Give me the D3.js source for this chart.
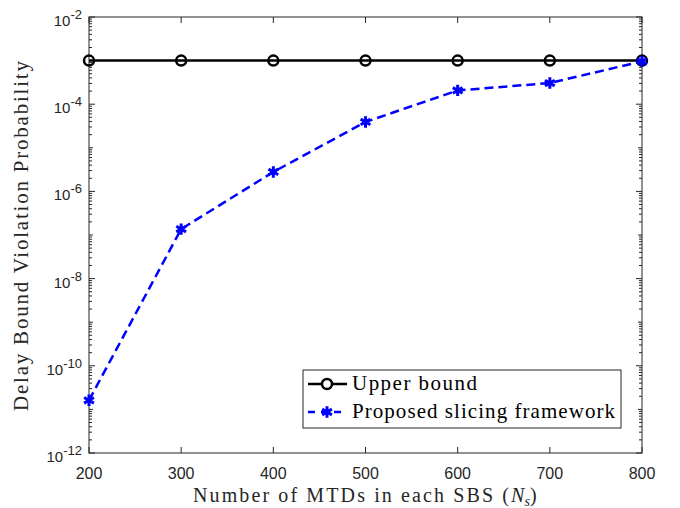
<!DOCTYPE html>
<html>
<head>
<meta charset="utf-8">
<script src="https://cdn.jsdelivr.net/npm/d3@7"></script>
<style>
body { margin: 0; background: #fff; }
</style>
</head>
<body>
<div id="view"></div>
<script>
var width = 680, height = 508;

// データ
var nsValues = [200, 300, 400, 500, 600, 700, 800];
var upperBound = [1e-3, 1e-3, 1e-3, 1e-3, 1e-3, 1e-3, 1e-3];
var proposed = [1.62e-11, 1.37e-7, 2.79e-6, 3.91e-5, 2.07e-4, 3.06e-4, 9.6e-4];
var xTicks = [200, 300, 400, 500, 600, 700, 800];
var yExponents = [-12, -10, -8, -6, -4, -2];
var seriesNames = ["Upper bound", "Proposed slicing framework"];

var pLeft = 89, pRight = 642, pTop = 17, pBottom = 453;

var svg = d3.select("#view").append("svg")
	.attr("width", width)
	.attr("height", height);

var x = d3.scaleLinear().domain([200, 800]).range([pLeft, pRight]);
var y = d3.scaleLog().domain([1e-12, 1e-2]).range([pBottom, pTop]);

var axisColor = "#262626";
var tickFont = "'Liberation Sans', Arial, sans-serif";
var serif = "'Liberation Serif', 'Times New Roman', serif";

// 目盛り（内向き）
var g = svg.append("g");
xTicks.forEach(function(t) {
	g.append("line").attr("x1", x(t)).attr("x2", x(t)).attr("y1", pBottom).attr("y2", pBottom - 6)
		.attr("stroke", axisColor);
	g.append("line").attr("x1", x(t)).attr("x2", x(t)).attr("y1", pTop).attr("y2", pTop + 6)
		.attr("stroke", axisColor);
	g.append("text").attr("x", x(t)).attr("y", 479)
		.attr("text-anchor", "middle")
		.style("font-family", tickFont).style("font-size", "16px")
		.attr("fill", axisColor)
		.text(t);
});

// y 目盛り（主目盛りと対数の副目盛り）
for (var e = -12; e <= -2; e++) {
	var yy = y(Math.pow(10, e));
	var len = (e % 2 === 0) ? 6 : 4;
	g.append("line").attr("x1", pLeft).attr("x2", pLeft + len).attr("y1", yy).attr("y2", yy).attr("stroke", axisColor);
	g.append("line").attr("x1", pRight).attr("x2", pRight - len).attr("y1", yy).attr("y2", yy).attr("stroke", axisColor);
	if (e < -2) {
		for (var m = 2; m <= 9; m++) {
			var ym = y(m * Math.pow(10, e));
			g.append("line").attr("x1", pLeft).attr("x2", pLeft + 3).attr("y1", ym).attr("y2", ym).attr("stroke", axisColor);
			g.append("line").attr("x1", pRight).attr("x2", pRight - 3).attr("y1", ym).attr("y2", ym).attr("stroke", axisColor);
		}
	}
}

yExponents.forEach(function(e) {
	var t = g.append("text")
		.attr("x", 82).attr("y", y(Math.pow(10, e)) + 9)
		.attr("text-anchor", "end")
		.style("font-family", tickFont).style("font-size", "15px")
		.attr("fill", axisColor);
	t.append("tspan").text("10");
	t.append("tspan").attr("dy", -7).style("font-size", "13px").text(e);
});

// 枠
svg.append("rect")
	.attr("x", pLeft).attr("y", pTop)
	.attr("width", pRight - pLeft).attr("height", pBottom - pTop)
	.attr("fill", "none").attr("stroke", axisColor).attr("stroke-width", 1);

var line = d3.line()
	.x(function(d, i) { return x(nsValues[i]); })
	.y(function(d) { return y(d); });

// 上限（黒の実線と丸）
svg.append("path").datum(upperBound)
	.attr("d", line)
	.attr("fill", "none").attr("stroke", "#000").attr("stroke-width", 2.5);

svg.selectAll(".ub")
	.data(upperBound).enter()
	.append("circle")
	.attr("class", "ub")
	.attr("cx", function(d, i) { return x(nsValues[i]); })
	.attr("cy", function(d) { return y(d); })
	.attr("r", 5)
	.attr("fill", "none").attr("stroke", "#000").attr("stroke-width", 2.5);

// 提案手法（青の破線とアスタリスク）
svg.append("path").datum(proposed)
	.attr("d", line)
	.attr("fill", "none").attr("stroke", "#0000ff").attr("stroke-width", 2.5)
	.attr("stroke-dasharray", "9,5");

var star = d3.symbol().type(d3.symbolAsterisk).size(90);
svg.selectAll(".pr")
	.data(proposed).enter()
	.append("path")
	.attr("class", "pr")
	.attr("transform", function(d, i) { return "translate(" + x(nsValues[i]) + "," + y(d) + ")"; })
	.attr("d", star)
	.attr("fill", "none").attr("stroke", "#0000ff").attr("stroke-width", 3);

// 凡例
var lg = svg.append("g");
lg.append("rect")
	.attr("x", 303).attr("y", 370).attr("width", 318).attr("height", 58)
	.attr("fill", "#fff").attr("stroke", axisColor).attr("stroke-width", 1);
lg.append("line").attr("x1", 308).attr("x2", 347).attr("y1", 384).attr("y2", 384)
	.attr("stroke", "#000").attr("stroke-width", 2.5);
lg.append("circle").attr("cx", 327).attr("cy", 384).attr("r", 5)
	.attr("fill", "#fff").attr("stroke", "#000").attr("stroke-width", 2.5);
lg.append("line").attr("x1", 308).attr("x2", 347).attr("y1", 412).attr("y2", 412)
	.attr("stroke", "#0000ff").attr("stroke-width", 2.5).attr("stroke-dasharray", "7,6")
	.attr("stroke-dashoffset", 0);
lg.append("path").attr("transform", "translate(327,412)").attr("d", star)
	.attr("fill", "none").attr("stroke", "#0000ff").attr("stroke-width", 3);
var legendWidths = [125, 263];
lg.selectAll(".lt")
	.data(seriesNames).enter()
	.append("text")
	.attr("x", 352)
	.attr("y", function(d, i) { return 390 + i * 28; })
	.attr("textLength", function(d, i) { return legendWidths[i]; })
	.attr("lengthAdjust", "spacing")
	.style("font-family", serif).style("font-size", "21px")
	.attr("fill", "#000")
	.text(function(d) { return d; });

// 軸ラベル
var xl = svg.append("text")
	.attr("x", 193).attr("y", 502)
	.style("font-family", serif).style("font-size", "20px")
	.attr("fill", axisColor);
xl.append("tspan").attr("textLength", 316).attr("lengthAdjust", "spacing").text("Number of MTDs in each SBS (");
xl.append("tspan").style("font-style", "italic").text("N");
xl.append("tspan").attr("dy", 4).style("font-style", "italic").style("font-size", "14px").text("s");
xl.append("tspan").attr("dy", -4).text(")");

svg.append("text")
	.attr("transform", "translate(28,236) rotate(-90)")
	.attr("text-anchor", "middle")
	.attr("textLength", 350)
	.attr("lengthAdjust", "spacing")
	.style("font-family", serif).style("font-size", "21px")
	.attr("fill", axisColor)
	.text("Delay Bound Violation Probability");
</script>
</body>
</html>
